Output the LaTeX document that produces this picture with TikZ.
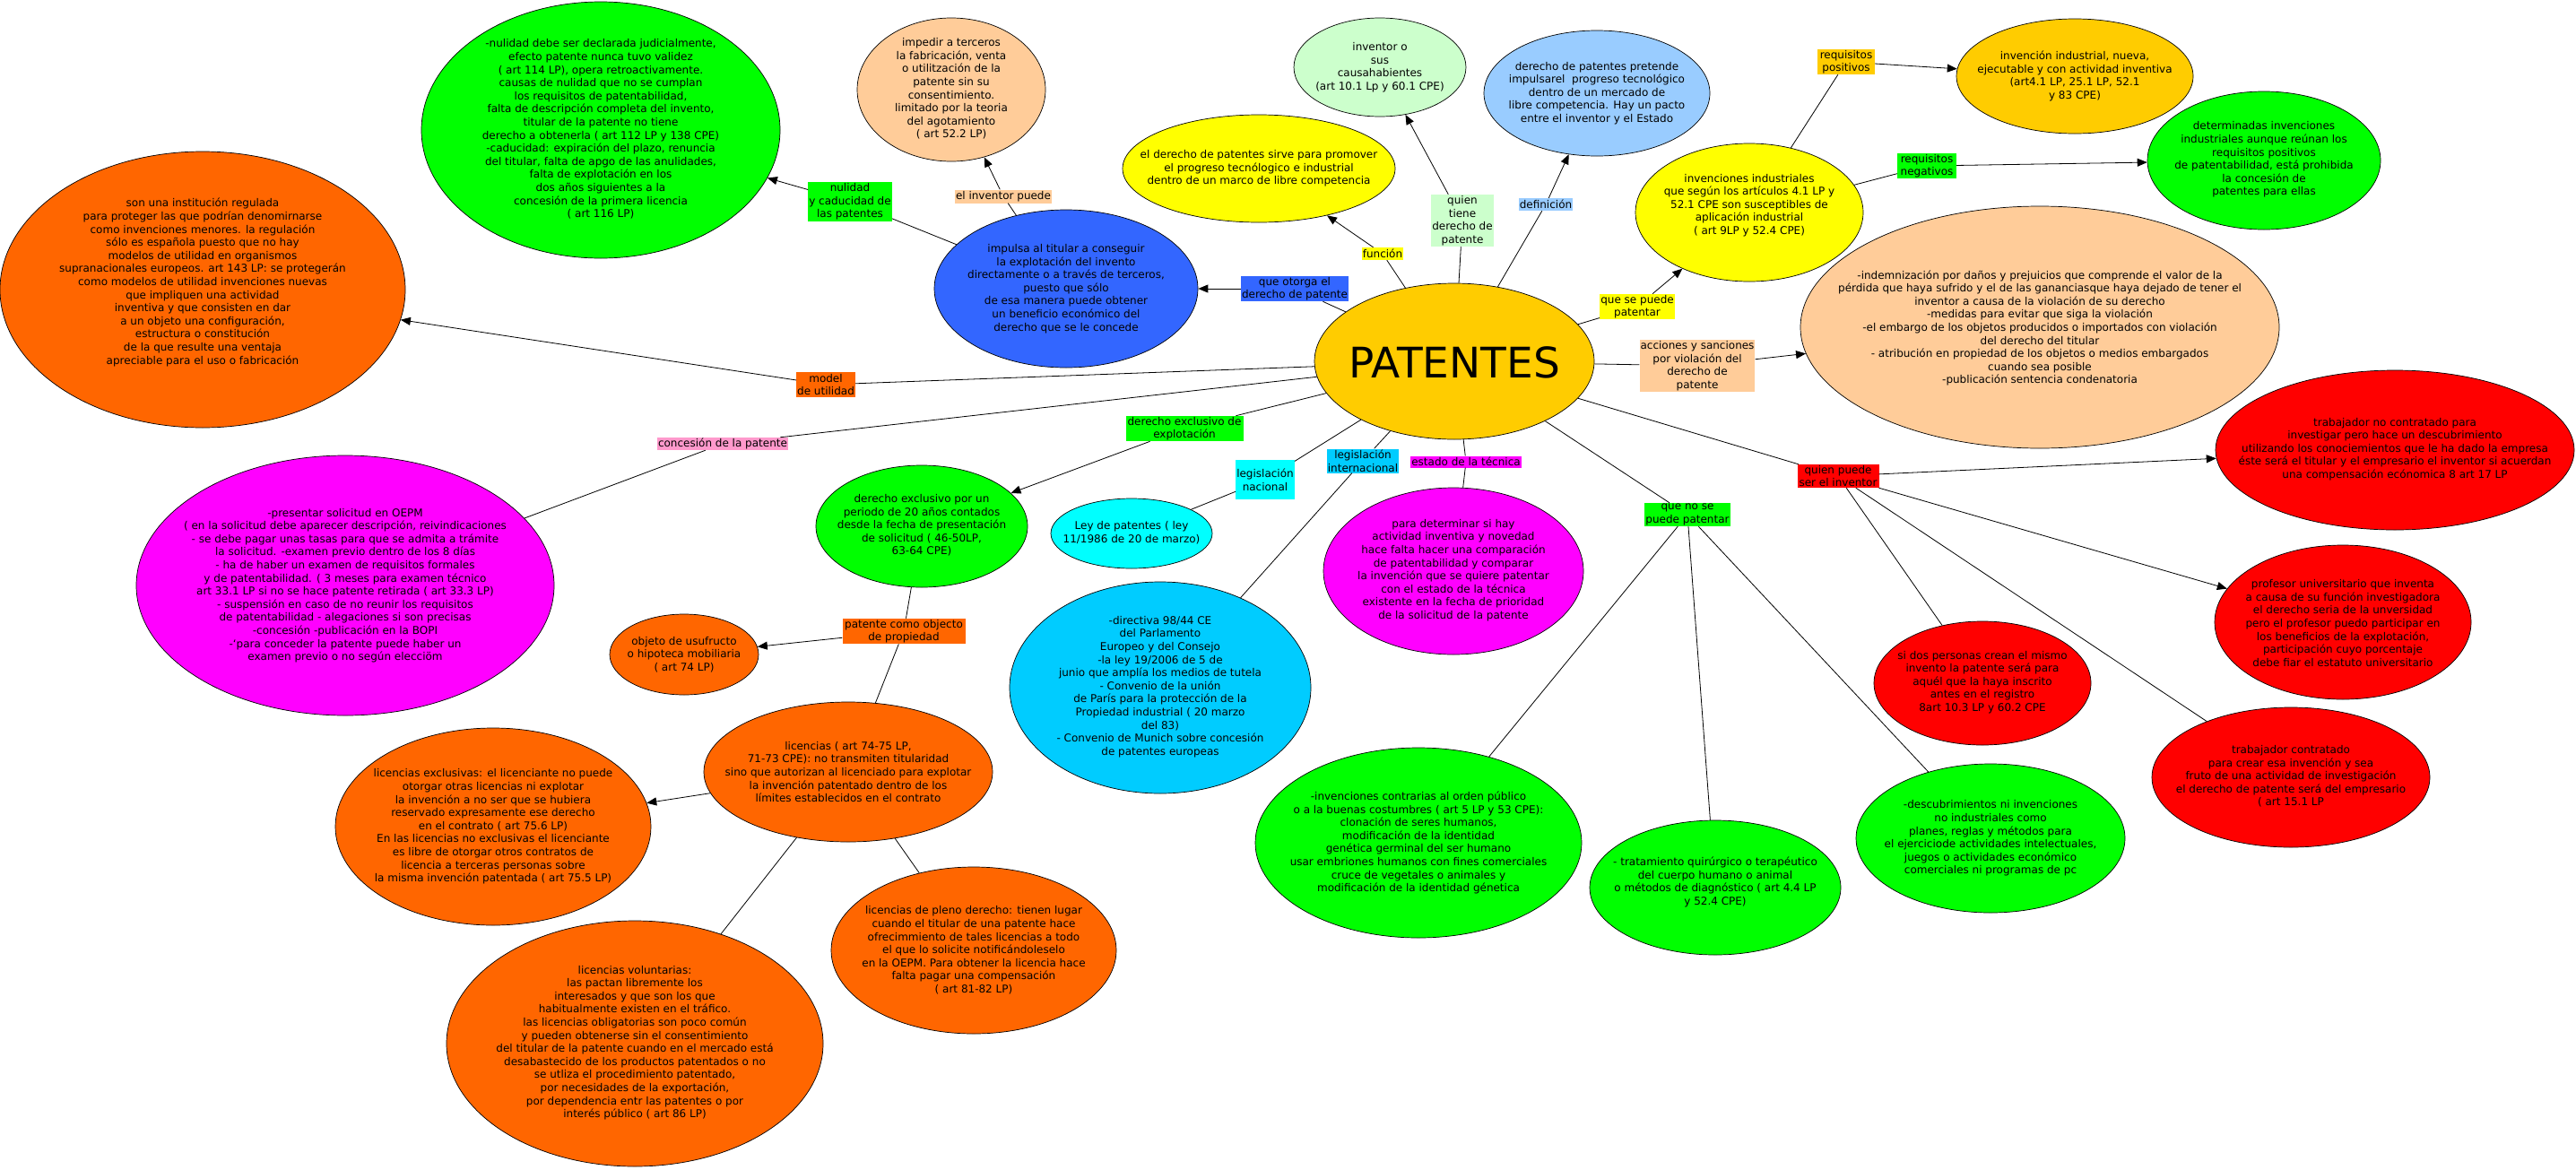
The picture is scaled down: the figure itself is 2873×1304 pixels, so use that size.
\documentclass[tikz,border=0pt]{standalone}
\usepackage{fontspec}
\setmainfont{DejaVu Sans}
\usetikzlibrary{shapes.geometric,arrows.meta}
\definecolor{cgold}{HTML}{FFCC00}
\definecolor{cpeach}{HTML}{FFCC99}
\definecolor{cgreen}{HTML}{00FF00}
\definecolor{clgreen}{HTML}{CCFFCC}
\definecolor{clblue}{HTML}{99CCFF}
\definecolor{cyellow}{HTML}{FFFF00}
\definecolor{cblue}{HTML}{3366FF}
\definecolor{corange}{HTML}{FF6600}
\definecolor{cmag}{HTML}{FF00FF}
\definecolor{ccyan}{HTML}{00FFFF}
\definecolor{csky}{HTML}{00CCFF}
\definecolor{cred}{HTML}{FF0000}
\definecolor{cpink}{HTML}{FF99CC}
\begin{document}
\begin{tikzpicture}[x=1pt,y=-1pt,
  bub/.style={ellipse,draw=black,line width=0.7pt,inner sep=0pt,fill=#1},
  txt/.style={align=center,inner sep=0pt,font=\fontsize{12}{14.6}\selectfont},
  lab/.style={rectangle,fill=#1,inner sep=1pt,align=center,font=\fontsize{12}{14.6}\selectfont},
  con/.style={line width=0.8pt},
  arr/.style={line width=0.8pt,-{Triangle[length=11pt,width=9pt]}}]
\fill[white] (0,0) rectangle (2873,1304);
\useasboundingbox (0,0) rectangle (2873,1304);

% ---------- ellipses ----------
\node[bub=cgold,minimum width=312pt,minimum height=174pt] (pat) at (1622,403) {};
\node[inner sep=0pt,font=\fontsize{47}{52}\selectfont] (patt) at (1622,404) {PATENTES};

\node[bub=cgreen,minimum width=400pt,minimum height=286pt] (nul) at (670,145) {};
\node[txt] (nult) at (670,144) {-nulidad debe ser declarada judicialmente,\\efecto patente nunca tuvo validez\\( art 114 LP), opera retroactivamente.\\causas de nulidad que no se cumplan\\los requisitos de patentabilidad,\\falta de descripción completa del invento,\\titular de la patente no tiene\\derecho a obtenerla ( art 112 LP y 138 CPE)\\-caducidad: expiración del plazo, renuncia\\del titular, falta de apgo de las anulidades,\\falta de explotación en los\\dos años siguientes a la\\concesión de la primera licencia\\( art 116 LP)};

\node[bub=cpeach,minimum width=210pt,minimum height=160pt] (imp) at (1061,100) {};
\node[txt] (impt) at (1061,99) {impedir a terceros\\la fabricación, venta\\o utilitzación de la\\patente sin su\\consentimiento.\\limitado por la teoria\\del agotamiento\\( art 52.2 LP)};

\node[bub=clgreen,minimum width=192pt,minimum height=110pt] (inv) at (1539,75) {};
\node[txt] (invt) at (1539,75) {inventor o\\sus\\causahabientes\\(art 10.1 Lp y 60.1 CPE)};

\node[bub=clblue,minimum width=252pt,minimum height=140pt] (def) at (1781,104) {};
\node[txt] (deft) at (1781,104) {derecho de patentes pretende\\impulsarel\ \ progreso tecnológico\\dentro de un mercado de\\libre competencia. Hay un pacto\\entre el inventor y el Estado};

\node[bub=cyellow,minimum width=304pt,minimum height=120pt] (sirve) at (1404,188) {};
\node[txt] (sirvet) at (1404,188) {el derecho de patentes sirve para promover\\el progreso tecnólogico e industrial\\dentro de un marco de libre competencia};

\node[bub=cblue,minimum width=294pt,minimum height=176pt] (impulsa) at (1189,322) {};
\node[txt] (impulsat) at (1189,322) {impulsa al titular a conseguir\\la explotación del invento\\directamente o a través de terceros,\\puesto que sólo\\de esa manera puede obtener\\un beneficio económico del\\derecho que se le concede};

\node[bub=cyellow,minimum width=254pt,minimum height=154pt] (indus) at (1951,237) {};
\node[txt] (indust) at (1951,229) {invenciones industriales\\que según los artículos 4.1 LP y\\52.1 CPE son susceptibles de\\aplicación industrial\\( art 9LP y 52.4 CPE)};

\node[bub=cgold,minimum width=264pt,minimum height=128pt] (nueva) at (2314,85) {};
\node[txt] (nuevat) at (2314,85) {invención industrial, nueva,\\ejecutable y con actividad inventiva\\(art4.1 LP, 25.1 LP, 52.1\\y 83 CPE)};

\node[bub=cgreen,minimum width=260pt,minimum height=154pt] (deter) at (2525,179) {};
\node[txt] (detert) at (2525,178) {determinadas invenciones\\industriales aunque reúnan los\\requisitos positivos\\de patentabilidad, está prohibida\\la concesión de\\patentes para ellas};

\node[bub=cpeach,minimum width=534pt,minimum height=270pt] (acc) at (2275,365) {};
\node[txt] (acct) at (2275,366) {-indemnización por daños y prejuicios que comprende el valor de la\\pérdida que haya sufrido y el de las gananciasque haya dejado de tener el\\inventor a causa de la violación de su derecho\\-medidas para evitar que siga la violación\\-el embargo de los objetos producidos o importados con violación\\del derecho del titular\\- atribución en propiedad de los objetos o medios embargados\\cuando sea posible\\-publicación sentencia condenatoria};

\node[bub=corange,minimum width=452pt,minimum height=308pt] (mod) at (226,323) {};
\node[txt] (modt) at (226,315) {son una institución regulada\\para proteger las que podrían denomirnarse\\como invenciones menores. la regulación\\sólo es española puesto que no hay\\modelos de utilidad en organismos\\supranacionales europeos. art 143 LP: se protegerán\\como modelos de utilidad invenciones nuevas\\que impliquen una actividad\\inventiva y que consisten en dar\\a un objeto una configuración,\\estructura o constitución\\de la que resulte una ventaja\\apreciable para el uso o fabricación};

\node[bub=cmag,minimum width=466pt,minimum height=290pt] (pres) at (385,653) {};
\node[txt] (prest) at (385,653) {-presentar solicitud en OEPM\\( en la solicitud debe aparecer descripción, reivindicaciones\\- se debe pagar unas tasas para que se admita a trámite\\la solicitud. -examen previo dentro de los 8 días\\- ha de haber un examen de requisitos formales\\y de patentabilidad. ( 3 meses para examen técnico\\art 33.1 LP si no se hace patente retirada ( art 33.3 LP)\\- suspensión en caso de no reunir los requisitos\\de patentabilidad - alegaciones si son precisas\\-concesión -publicación en la BOPI\\-`para conceder la patente puede haber un\\examen previo o no según elecciöm};

\node[bub=cgreen,minimum width=236pt,minimum height=136pt] (excl) at (1028,587) {};
\node[txt] (exclt) at (1028,586) {derecho exclusivo por un\\periodo de 20 años contados\\desde la fecha de presentación\\de solicitud ( 46-50LP,\\63-64 CPE)};

\node[bub=ccyan,minimum width=180pt,minimum height=78pt] (ley) at (1262,595) {};
\node[txt] (leyt) at (1262,594) {Ley de patentes ( ley\\11/1986 de 20 de marzo)};

\node[bub=csky,minimum width=336pt,minimum height=236pt] (dir) at (1294,767) {};
\node[txt] (dirt) at (1294,766) {-directiva 98/44 CE\\del Parlamento\\Europeo y del Consejo\\-la ley 19/2006 de 5 de\\junio que amplía los medios de tutela\\- Convenio de la unión\\de París para la protección de la\\Propiedad industrial ( 20 marzo\\del 83)\\- Convenio de Munich sobre concesión\\de patentes europeas};

\node[bub=cmag,minimum width=290pt,minimum height=186pt] (det) at (1621,637) {};
\node[txt] (dett) at (1621,636) {para determinar si hay\\actividad inventiva y novedad\\hace falta hacer una comparación\\de patentabilidad y comparar\\la invención que se quiere patentar\\con el estado de la técnica\\existente en la fecha de prioridad\\de la solicitud de la patente};

\node[bub=corange,minimum width=166pt,minimum height=90pt] (usu) at (763,730) {};
\node[txt] (usut) at (763,730) {objeto de usufructo\\o hipoteca mobiliaria\\( art 74 LP)};

\node[bub=corange,minimum width=322pt,minimum height=156pt] (lic) at (946,861) {};
\node[txt] (lict) at (946,861) {licencias ( art 74-75 LP,\\71-73 CPE): no transmiten titularidad\\sino que autorizan al licenciado para explotar\\la invención patentado dentro de los\\límites establecidos en el contrato};

\node[bub=corange,minimum width=352pt,minimum height=220pt] (licex) at (550,922) {};
\node[txt] (licext) at (550,922) {licencias exclusivas: el licenciante no puede\\otorgar otras licencias ni explotar\\la invención a no ser que se hubiera\\reservado expresamente ese derecho\\en el contrato ( art 75.6 LP)\\En las licencias no exclusivas el licenciante\\es libre de otorgar otros contratos de\\licencia a terceras personas sobre\\la misma invención patentada ( art 75.5 LP)};

\node[bub=corange,minimum width=420pt,minimum height=274pt] (vol) at (708,1164) {};
\node[txt] (volt) at (708,1163) {licencias voluntarias:\\las pactan libremente los\\interesados y que son los que\\habitualmente existen en el tráfico.\\las licencias obligatorias son poco común\\y pueden obtenerse sin el consentimiento\\del titular de la patente cuando en el mercado está\\desabastecido de los productos patentados o no\\se utliza el procedimiento patentado,\\por necesidades de la exportación,\\por dependencia entr las patentes o por\\interés público ( art 86 LP)};

\node[bub=corange,minimum width=318pt,minimum height=186pt] (pleno) at (1086,1060) {};
\node[txt] (plenot) at (1086,1060) {licencias de pleno derecho: tienen lugar\\cuando el titular de una patente hace\\ofrecimmiento de tales licencias a todo\\el que lo solicite notificándoleselo\\en la OEPM. Para obtener la licencia hace\\falta pagar una compensación\\( art 81-82 LP)};

\node[bub=cgreen,minimum width=364pt,minimum height=212pt] (contra) at (1582,940) {};
\node[txt] (contrat) at (1582,940) {-invenciones contrarias al orden público\\o a la buenas costumbres ( art 5 LP y 53 CPE):\\clonación de seres humanos,\\modificación de la identidad\\genética germinal del ser humano\\usar embriones humanos con fines comerciales\\cruce de vegetales o animales y\\modificación de la identidad génetica};

\node[bub=cgreen,minimum width=280pt,minimum height=150pt] (trat) at (1913,990) {};
\node[txt] (tratt) at (1913,984) {- tratamiento quirúrgico o terapéutico\\del cuerpo humano o animal\\o métodos de diagnóstico ( art 4.4 LP\\y 52.4 CPE)};

\node[bub=cgreen,minimum width=300pt,minimum height=166pt] (desc) at (2220,935) {};
\node[txt] (desct) at (2220,935) {-descubrimientos ni invenciones\\no industriales como\\planes, reglas y métodos para\\el ejerciciode actividades intelectuales,\\juegos o actividades económico\\comerciales ni programas de pc};

\node[bub=cred,minimum width=400pt,minimum height=178pt] (tnc) at (2671,502) {};
\node[txt] (tnct) at (2671,501) {trabajador no contratado para\\investigar pero hace un descubrimiento\\utilizando los conociemientos que le ha dado la empresa\\éste será el titular y el empresario el inventor si acuerdan\\una compensación ecónomica 8 art 17 LP};

\node[bub=cred,minimum width=286pt,minimum height=172pt] (prof) at (2613,694) {};
\node[txt] (proft) at (2613,695) {profesor universitario que inventa\\a causa de su función investigadora\\el derecho seria de la unversidad\\pero el profesor puedo participar en\\los beneficios de la explotación,\\participación cuyo porcentaje\\debe fiar el estatuto universitario};

\node[bub=cred,minimum width=242pt,minimum height=138pt] (dos) at (2211,762) {};
\node[txt] (dost) at (2211,761) {si dos personas crean el mismo\\invento la patente será para\\aquél que la haya inscrito\\antes en el registro\\8art 10.3 LP y 60.2 CPE};

\node[bub=cred,minimum width=310pt,minimum height=156pt] (tc) at (2555,867) {};
\node[txt] (tct) at (2555,866) {trabajador contratado\\para crear esa invención y sea\\fruto de una actividad de investigación\\el derecho de patente será del empresario\\( art 15.1 LP};

% ---------- labels ----------
\node[lab=cgreen,minimum width=92pt,minimum height=44pt] (lnul) at (948,225) {nulidad\\y caducidad de\\las patentes};
\node[lab=cpeach,minimum width=107pt,minimum height=15pt] (linvp) at (1119,219) {el inventor puede};
\node[lab=cyellow,minimum width=46pt,minimum height=14pt] (lfun) at (1542,283) {función};
\node[lab=clgreen,minimum width=68pt,minimum height=58pt] (lquien) at (1631,246) {quien\\tiene\\derecho de\\patente};
\node[lab=clblue,minimum width=60pt,minimum height=14pt] (ldef) at (1724,228) {definición};
\node[lab=cgold,minimum width=64pt,minimum height=28pt] (lrpos) at (2059,69) {requisitos\\positivos};
\node[lab=cgreen,minimum width=66pt,minimum height=28pt] (lrneg) at (2149,185) {requisitos\\negativos};
\node[lab=cyellow,minimum width=83pt,minimum height=28pt] (lsep) at (1826,342) {que se puede\\patentar};
\node[lab=cblue,minimum width=119pt,minimum height=28pt] (lotor) at (1444,322) {que otorga el\\derecho de patente};
\node[lab=cpeach,minimum width=128pt,minimum height=57pt] (lacc) at (1893,408) {acciones y sanciones\\por violación del\\derecho de\\patente};
\node[lab=corange,minimum width=65pt,minimum height=28pt] (lmod) at (921,429) {model\\de utilidad};
\node[lab=cpink,minimum width=144pt,minimum height=14pt] (lconc) at (806,495) {concesión de la patente};
\node[lab=cgreen,minimum width=131pt,minimum height=27pt] (ldex) at (1321,478) {derecho exclusivo de\\explotación};
\node[lab=ccyan,minimum width=64pt,minimum height=44pt] (llnac) at (1411,535) {legislación\\nacional};
\node[lab=csky,minimum width=80pt,minimum height=27pt] (llint) at (1520,514) {legislación\\internacional};
\node[lab=cmag,minimum width=122pt,minimum height=13pt] (lest) at (1635,515) {estado de la técnica};
\node[lab=cgreen,minimum width=96pt,minimum height=26pt] (lnop) at (1882,574) {que no se\\puede patentar};
\node[lab=cred,minimum width=91pt,minimum height=26pt] (lqp) at (2050,531) {quien puede\\ser el inventor};
\node[lab=corange,minimum width=137pt,minimum height=28pt] (lobj) at (1008,704) {patente como objecto\\de propiedad};

% ---------- connectors ----------
\draw[con] (pat) -- (lotor);   \draw[arr] (lotor) -- (impulsa);
\draw[con] (impulsa) -- (lnul); \draw[arr] (lnul) -- (nul);
\draw[con] (impulsa) -- (linvp); \draw[arr] (linvp) -- (imp);
\draw[con] (pat) -- (lfun);    \draw[arr] (lfun) -- (sirve);
\draw[con] (pat) -- (lquien);  \draw[arr] (lquien) -- (inv);
\draw[con] (pat) -- (ldef);    \draw[arr] (ldef) -- (def);
\draw[con] (pat) -- (lsep);    \draw[arr] (lsep) -- (indus);
\draw[con] (indus) -- (lrpos); \draw[arr] (lrpos) -- (nueva);
\draw[con] (indus) -- (lrneg); \draw[arr] (lrneg) -- (deter);
\draw[con] (pat) -- (lacc);    \draw[arr] (lacc) -- (acc);
\draw[con] (pat) -- (lmod);    \draw[arr] (lmod) -- (mod);
\draw[con] (pat) -- (lconc);   \draw[con] (lconc) -- (pres);
\draw[con] (pat) -- (ldex);    \draw[arr] (ldex) -- (excl);
\draw[con] (pat) -- (llnac);   \draw[con] (llnac) -- (ley);
\draw[con] (pat) -- (llint);   \draw[con] (llint) -- (dir);
\draw[con] (pat) -- (lest);    \draw[con] (lest) -- (det);
\draw[con] (pat) -- (lnop);
\draw[con] (lnop) -- (contra); \draw[con] (lnop) -- (trat); \draw[con] (lnop) -- (desc);
\draw[con] (pat) -- (lqp);
\draw[arr] (lqp) -- (tnc); \draw[arr] (lqp) -- (prof);
\draw[con] (lqp) -- (dos); \draw[con] (lqp) -- (tc);
\draw[con] (excl) -- (lobj); \draw[arr] (lobj) -- (usu); \draw[con] (lobj) -- (lic);
\draw[arr] (lic) -- (licex); \draw[con] (lic) -- (vol); \draw[con] (lic) -- (pleno);
\end{tikzpicture}
\end{document}
